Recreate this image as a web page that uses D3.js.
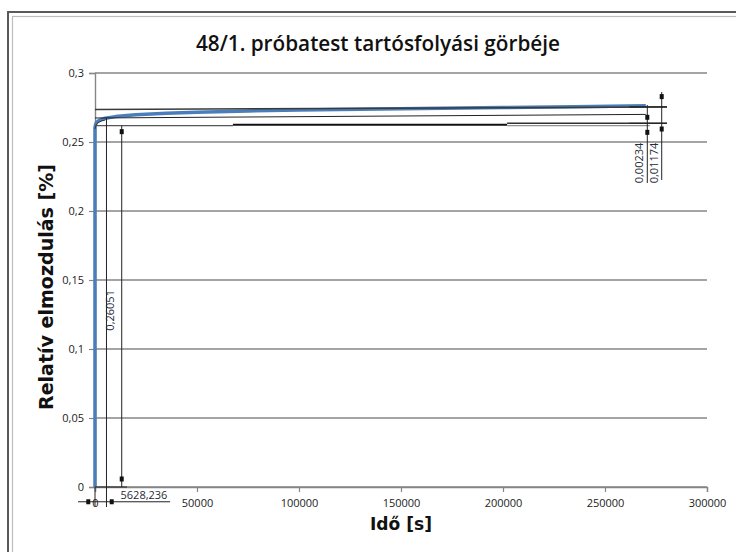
<!DOCTYPE html>
<html><head><meta charset="utf-8">
<script src="https://cdn.jsdelivr.net/npm/d3@7"></script>
<style>body{margin:0;background:#fff}svg{display:block}</style>
</head><body>
<svg id="c" width="736" height="552"></svg>
<script>
// ---- data ----
const titleText = "48/1. próbatest tartósfolyási görbéje";
const xLabel = "Idő [s]";
const yLabel = "Relatív elmozdulás [%]";
const xTicks = [0, 50000, 100000, 150000, 200000, 250000, 300000];
const xTickLabels = ["0", "50000", "100000", "150000", "200000", "250000", "300000"];
const yTicks = [0, 0.05, 0.1, 0.15, 0.2, 0.25, 0.3];
const yTickLabels = ["0", "0,05", "0,1", "0,15", "0,2", "0,25", "0,3"];
// creep curve (time [s], relative displacement [%])
const timeS  = [0, 0, 300, 800, 1500, 3000, 5000, 10000, 20000, 35000, 50000, 75000, 100000, 130000, 160000, 200000, 235000, 270000];
const strain = [0, 0.2605, 0.2628, 0.2642, 0.2652, 0.2663, 0.2672, 0.2684, 0.2697, 0.2708, 0.2716, 0.2725, 0.2732, 0.2738, 0.2743, 0.2750, 0.2756, 0.2763];
// annotation reference lines, data units: [t1, v1, t2, v2]
const refLineTop   = [0, 0.2735, 280400, 0.2754];
const refLineMid   = [0, 0.2674, 270000, 0.2700];
const refLineLowA  = [0, 0.2618, 67600, 0.2618];
const refLineLowB  = [67600, 0.2625, 202000, 0.2625];
const refLineLowC  = [202000, 0.2636, 280400, 0.2636];
const refLineLowD  = [202000, 0.2618, 272000, 0.2618];
// dimension annotations
const dimTimeValue = 5628.236;
const dimTimeText = "5628,236";
const dimYieldText = "0,26051";
const dimYieldX = 13100;
const dimSmallText = "0,00234";
const dimLargeText = "0,01174";
const dimSmallX = 270740, dimLargeX = 277800;

// ---- layout ----
const svg = d3.select("#c");
const x = d3.scaleLinear().domain([0, 300000]).range([95, 707]);
const y = d3.scaleLinear().domain([0, 0.3]).range([487, 73]);

// chart frame
svg.append("rect").attr("x", 8).attr("y", 12).attr("width", 800).attr("height", 600)
  .attr("fill", "none").attr("stroke", "#5a5a5a").attr("stroke-width", 2);
svg.append("rect").attr("x", 12.5).attr("y", 16.5).attr("width", 800).attr("height", 600)
  .attr("fill", "none").attr("stroke", "#bdbdbd").attr("stroke-width", 1.2);

// gridlines
svg.append("g").selectAll("line").data(yTicks).join("line")
  .attr("x1", x(0)).attr("x2", x(300000))
  .attr("y1", d => y(d)).attr("y2", d => y(d))
  .attr("stroke", "#868686").attr("stroke-width", 1.4);

// axes
const yAxis = d3.axisLeft(y).tickValues(yTicks).tickFormat((d, i) => yTickLabels[i]).tickSize(6).tickPadding(5);
const gy = svg.append("g").attr("transform", `translate(${x(0)},0)`).call(yAxis);
const xAxis = d3.axisBottom(x).tickValues(xTicks).tickFormat((d, i) => xTickLabels[i]).tickSize(5).tickPadding(7);
const gx = svg.append("g").attr("transform", `translate(0,${y(0)})`).call(xAxis);
[gx, gy].forEach(g => {
  g.select(".domain").attr("stroke", "#868686").attr("stroke-width", 1.4);
  g.selectAll(".tick line").attr("stroke", "#868686").attr("stroke-width", 1.2);
  g.selectAll(".tick text").attr("fill", "#222").style("font-family", "'Open Sans', sans-serif").style("font-size", "11px");
});

// data line
svg.append("path").datum(strain).attr("d", d3.line().x((d, i) => x(timeS[i])).y(d => y(d)))
  .attr("fill", "none").attr("stroke", "#4a7ebb").attr("stroke-width", 3.5).attr("stroke-linejoin", "round");
// thin dark outline near the knee
svg.append("path").datum(strain.slice(1, 7))
  .attr("d", d3.line().x((d, i) => x(timeS[i + 1])).y(d => y(d - 0.0012)))
  .attr("fill", "none").attr("stroke", "#333").attr("stroke-width", 1);

// reference lines
function seg(s, color, w) {
  svg.append("line").attr("x1", x(s[0])).attr("y1", y(s[1])).attr("x2", x(s[2])).attr("y2", y(s[3]))
    .attr("stroke", color).attr("stroke-width", w);
}
seg(refLineTop, "#3a3a3a", 1.5);
seg(refLineMid, "#222", 1);
seg(refLineLowA, "#555", 1.2);
seg(refLineLowB, "#111", 2);
seg(refLineLowC, "#333", 1.3);
seg(refLineLowD, "#777", 1);

// dimension helpers
const below = -0.0145;
function vline(t, v1, v2, w) { seg([t, v1, t, v2], "#222", w || 1); }
function hline(v, t1, t2, w) { seg([t1, v, t2, v], "#222", w || 1); }
function marker(t, v) {
  svg.append("rect").attr("x", x(t) - 2).attr("y", y(v) - 2.5).attr("width", 4).attr("height", 5).attr("fill", "#111");
}
function label(txt, t, v, rot) {
  svg.append("text").attr("transform", `translate(${x(t)},${y(v)}) rotate(${rot})`)
    .attr("text-anchor", "middle").attr("fill", "#1f2a3a")
    .style("font-family", "'Open Sans', sans-serif").style("font-size", "11px").text(txt);
}

// time dimension (5628,236)
vline(0, 0, below);
vline(dimTimeValue, refLineMid[1], below);
hline(-0.0107, -8300, 36800);
marker(-3300, -0.0107); marker(8200, -0.0107);
label(dimTimeText, 24000, -0.0087, 0);

// yield dimension (0,26051)
hline(0, 0, 15700, 1.2);
vline(dimYieldX, refLineLowA[1], 0);
marker(dimYieldX, 0.2575); marker(dimYieldX, 0.0058);
label(dimYieldText, 9300, 0.128, -90);

// right dimensions
vline(dimSmallX, 0.2768, 0.2203);
marker(dimSmallX, 0.2679); marker(dimSmallX, 0.2570);
vline(dimLargeX, 0.2862, 0.2225);
marker(dimLargeX, 0.2829); marker(dimLargeX, 0.2594);
hline(0.2754, 262000, 280400, 1.2);
hline(0.2636, 262000, 280400, 1.2);
label(dimSmallText, 268400, 0.2348, -90);
label(dimLargeText, 276100, 0.2348, -90);

// titles
svg.append("text").attr("x", 378).attr("y", 51).attr("text-anchor", "middle")
  .attr("textLength", 364).attr("lengthAdjust", "spacingAndGlyphs")
  .style("font-family", "'Open Sans', sans-serif").style("font-weight", 600).style("font-size", "21px")
  .attr("fill", "#111").text(titleText);
svg.append("text").attr("transform", "translate(53,287) rotate(-90)").attr("text-anchor", "middle")
  .attr("textLength", 246).attr("lengthAdjust", "spacingAndGlyphs")
  .style("font-family", "'DejaVu Sans', sans-serif").style("font-weight", "bold").style("font-size", "19px")
  .attr("fill", "#111").text(yLabel);
svg.append("text").attr("x", 401).attr("y", 530).attr("text-anchor", "middle")
  .attr("textLength", 62).attr("lengthAdjust", "spacingAndGlyphs")
  .style("font-family", "'DejaVu Sans', sans-serif").style("font-weight", "bold").style("font-size", "18px")
  .attr("fill", "#111").text(xLabel);
</script>
</body></html>
